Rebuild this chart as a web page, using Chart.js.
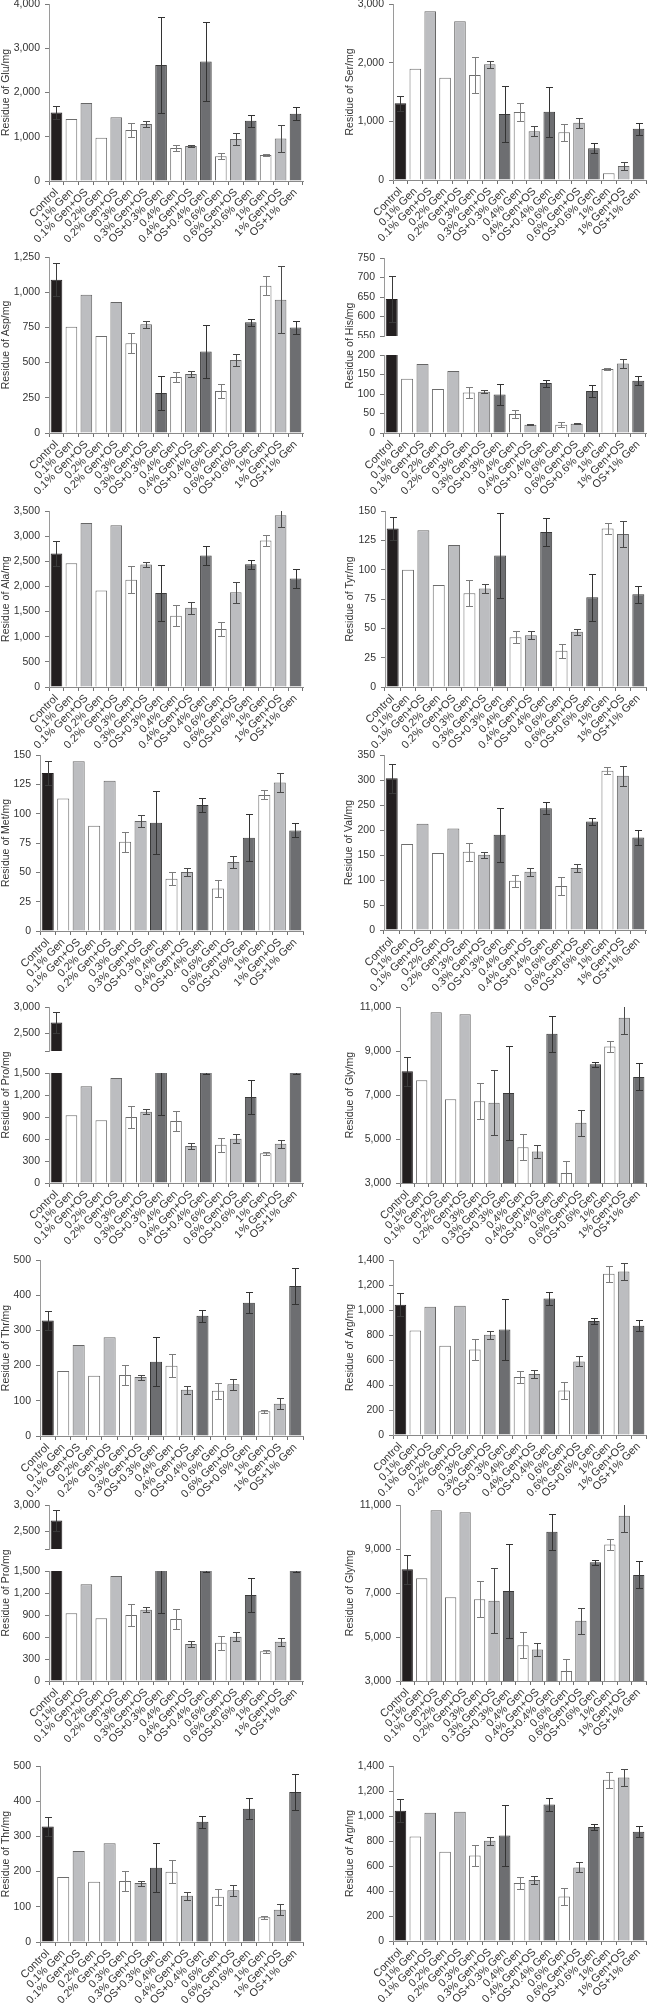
<!DOCTYPE html>
<html>
<head>
<meta charset="utf-8">
<title>Residues of amino acids</title>
<script src="https://cdn.jsdelivr.net/npm/chart.js@4.4.1/dist/chart.umd.min.js"></script>
<style>
  html, body { margin: 0; padding: 0; background: #fff; }
  body { position: relative; width: 647px; height: 2009px; overflow: hidden; }
  canvas { position: absolute; }
</style>
</head>
<body>
<script>
// ---------- data ----------
const categories = ['Control', '0.1% Gen', '0.1% Gen+OS', '0.2% Gen', '0.2% Gen+OS', '0.3% Gen', '0.3% Gen+OS',
  'OS+0.3% Gen', '0.4% Gen', '0.4% Gen+OS', 'OS+0.4% Gen', '0.6% Gen', '0.6% Gen+OS', 'OS+0.6% Gen',
  '1% Gen', '1% Gen+OS', 'OS+1% Gen'];

const gluValues = [1550, 1400, 1760, 980, 1440, 1150, 1290, 2620, 745, 790, 2700, 560, 950, 1360, 590, 960, 1520];
const gluErrors = [150, 0, 0, 0, 0, 160, 60, 1090, 70, 30, 900, 70, 140, 140, 30, 300, 145];
const gluTicks = [0, 1000, 2000, 3000, 4000];

const serValues = [1307, 1898, 2875, 1744, 2705, 1790, 1972, 1125, 1159, 830, 1165, 812, 977, 540, 114, 239, 875];
const serErrors = [130, 0, 0, 0, 0, 300, 55, 470, 160, 85, 425, 140, 88, 85, 0, 65, 100];
const serTicks = [0, 1000, 2000, 3000];

const aspValues = [1089, 755, 982, 689, 930, 637, 772, 284, 398, 419, 578, 298, 518, 786, 1046, 947, 750];
const aspErrors = [115, 0, 0, 0, 0, 70, 27, 118, 35, 20, 190, 50, 43, 23, 67, 237, 45];
const aspTicks = [0, 250, 500, 750, 1000, 1250];

const hisValues = [645, 139, 177, 113, 159, 104, 106, 99, 49, 21, 128, 21, 24, 108, 164, 178, 134];
const hisErrors = [58, 0, 0, 0, 0, 14, 4, 27, 11, 1.5, 9, 6, 1.5, 15, 3, 12, 11];
const hisUpperTicks = [550, 600, 650, 700, 750];
const hisLowerTicks = [0, 50, 100, 150, 200];

const alaValues = [2653, 2460, 3263, 1917, 3216, 2135, 2434, 1870, 1419, 1578, 2613, 1154, 1883, 2440, 2911, 3415, 2160];
const alaErrors = [250, 0, 0, 0, 0, 272, 45, 555, 210, 120, 190, 145, 205, 90, 110, 240, 190];
const alaTicks = [0, 500, 1000, 1500, 2000, 2500, 3000, 3500];

const tyrValues = [135, 100, 133.5, 87, 121, 80, 84, 112, 42.5, 44, 132, 31, 47, 76.5, 135, 130.5, 79];
const tyrErrors = [10, 0, 0, 0, 0, 11, 4, 36, 5, 3.4, 12, 6, 2.5, 20, 5, 11, 7];
const tyrTicks = [0, 25, 50, 75, 100, 125, 150];

const metValues = [134.6, 112.9, 144.6, 89.7, 128, 76, 93.7, 92.3, 44.6, 50.3, 107.4, 36.3, 58.9, 79.4, 116, 126.6, 85.7];
const metErrors = [10.5, 0, 0, 0, 0, 8.8, 5.4, 27, 5.5, 3.4, 6, 7, 5, 20, 3.9, 8, 6];
const metTicks = [0, 25, 50, 75, 100, 125, 150];

const valValues = [303.6, 171.8, 212.4, 153.8, 203.1, 156.5, 150.5, 190.4, 98.5, 116.5, 243.7, 87.9, 123.8, 217, 318.3, 308.3, 185.1];
const valErrors = [29, 0, 0, 0, 0, 17.6, 5.7, 54.5, 12, 8.3, 12.3, 18, 8, 7.7, 7, 20, 15];
const valTicks = [0, 50, 100, 150, 200, 250, 300, 350];

const proValues = [2705, 923, 1318, 855, 1432, 900, 973, 1530, 845, 505, 1560, 523, 605, 1173, 405, 536, 1560];
const proErrors = [200, 0, 0, 0, 0, 148, 32, 598, 138, 45, 78, 95, 66, 230, 18, 57, 78];
const proUpperTicks = [2167, 2500, 3000];
const proLowerTicks = [0, 300, 600, 900, 1200, 1500];

const glyValues = [8080, 7669, 10757, 6802, 10665, 6711, 6650, 7091, 4627, 4430, 9783, 3456, 5738, 8399, 9205, 10513, 7821];
const glyErrors = [670, 0, 0, 0, 0, 814, 1490, 2120, 585, 305, 820, 548, 600, 105, 250, 750, 615];
const glyTicks = [3000, 5000, 7000, 9000, 11000];

const thrValues = [328, 184.4, 258.6, 171.1, 280.4, 173, 167.3, 211, 199.6, 131.2, 341.3, 128.3, 147.3, 378.3, 70.3, 91.3, 425.9];
const thrErrors = [28, 0, 0, 0, 0, 29.5, 7, 69, 32, 11, 17, 22, 16, 30, 4, 16, 51];
const thrTicks = [0, 100, 200, 300, 400, 500];

const argValues = [1043, 837, 1027, 715, 1035, 685, 803, 845, 464, 488, 1093, 357, 589, 912, 1291, 1309, 875];
const argErrors = [90, 0, 0, 0, 0, 85, 32, 245, 48, 32, 50, 65, 40, 27, 65, 70, 45];
const argTicks = [0, 100, 200, 300, 400, 500, 600, 700, 800, 900, 1000, 1100, 1200, 1300, 1400];

// ---------- look ----------
const FONT = '"Liberation Sans", Arial, Helvetica, sans-serif';
const TEXT = '#333';
const STYLE = {
  ctrl:  { fill: '#231f20', border: '#231f20', err: '#3a3a3a' },
  gen:   { fill: '#ffffff', border: '#6d6d6d', err: '#7c7c7c' },
  genos: { fill: '#bcbdc0', border: '#666666', err: '#4a4a4a' },
  osgen: { fill: '#6d6e71', border: '#3a3a3a', err: '#333333' }
};
function groupOf(name) {
  if (name === 'Control') return 'ctrl';
  if (name.startsWith('OS+')) return 'osgen';
  if (name.endsWith('+OS')) return 'genos';
  return 'gen';
}

// error bars, placed with the chart's own y scale
const errorBars = {
  id: 'errorBars',
  afterDatasetsDraw(chart) {
    const ds = chart.data.datasets[0];
    const errs = ds.errors;
    if (!errs) return;
    const { ctx, chartArea: a } = chart;
    const y = chart.scales.y;
    const meta = chart.getDatasetMeta(0);
    ctx.save();
    ctx.beginPath();
    ctx.rect(a.left, a.top, a.right - a.left, a.bottom - a.top);
    ctx.clip();
    ctx.lineWidth = 1;
    meta.data.forEach((bar, i) => {
      const e = errs[i];
      if (!e) return;
      const x = Math.round(bar.x) + 0.5;
      const hi = Math.round(y.getPixelForValue(ds.data[i] + e)) + 0.5;
      const lo = Math.round(y.getPixelForValue(ds.data[i] - e)) + 0.5;
      ctx.strokeStyle = STYLE[groupOf(categories[i])].err;
      ctx.beginPath();
      ctx.moveTo(x, hi); ctx.lineTo(x, lo);
      ctx.moveTo(x - 3.5, hi); ctx.lineTo(x + 3.5, hi);
      ctx.moveTo(x - 3.5, lo); ctx.lineTo(x + 3.5, lo);
      ctx.stroke();
    });
    ctx.restore();
  }
};

// title shared by the two halves of a broken axis
function sideTitle(text, x, y) {
  return {
    id: 'sideTitle',
    afterDraw(chart) {
      const ctx = chart.ctx;
      ctx.save();
      ctx.translate(x, y);
      ctx.rotate(-Math.PI / 2);
      ctx.font = '10.5px ' + FONT;
      ctx.fillStyle = TEXT;
      ctx.textAlign = 'center';
      ctx.textBaseline = 'middle';
      ctx.fillText(text, 0, 0);
      ctx.restore();
    }
  };
}

function addCanvas(left, top, width, height) {
  const c = document.createElement('canvas');
  c.width = width;
  c.height = height;
  Object.assign(c.style, { left: left + 'px', top: top + 'px', width: width + 'px', height: height + 'px' });
  document.body.appendChild(c);
  return c;
}

function barChart(o) {
  const c = addCanvas(o.left, o.top, o.width, o.height);
  const padLeft = Math.max(0, o.titleX - 6.3 - o.left);
  const axisW = o.axisX - o.left - padLeft;
  const xH = o.showX ? (o.top + o.height - o.yBottom) : 0;
  const groups = categories.map(groupOf);
  const plugins = [errorBars];
  if (o.sideTitle) plugins.push(sideTitle(o.sideTitle, o.titleX - o.left, o.sideTitleY - o.top));
  new Chart(c, {
    type: 'bar',
    data: {
      labels: categories,
      datasets: [{
        data: o.values,
        errors: o.errors,
        backgroundColor: groups.map(g => STYLE[g].fill),
        borderColor: groups.map(g => STYLE[g].border),
        borderWidth: 1,
        barPercentage: 0.78,
        categoryPercentage: 1,
        clip: 0
      }]
    },
    options: {
      responsive: false,
      animation: false,
      events: [],
      layout: { padding: {
        left: padLeft,
        right: o.left + o.width - o.xRight,
        top: o.yTop - o.top,
        bottom: o.showX ? 0 : (o.top + o.height - o.yBottom)
      } },
      plugins: { legend: { display: false }, tooltip: { enabled: false } },
      scales: {
        x: {
          display: o.showX,
          grid: { offset: true, drawOnChartArea: false, tickLength: 4, color: '#6f6f6f' },
          border: { color: '#8a8a8a' },
          ticks: { autoSkip: false, minRotation: 45, maxRotation: 45, padding: 1, color: TEXT,
                   font: { family: FONT, size: 11 } },
          afterFit: s => { s.height = xH; s.paddingLeft = 0; s.paddingRight = 0; }
        },
        y: {
          min: o.ticks[0],
          max: o.ticks[o.ticks.length - 1],
          grid: { drawOnChartArea: false, tickLength: 4, color: '#7a7a7a' },
          border: { color: '#9a9a9a' },
          ticks: { padding: 5, color: TEXT, font: { family: FONT, size: 10.5 },
                   callback: v => (o.hideMin && v === o.ticks[0]) ? '' : v.toLocaleString('en-US') },
          afterBuildTicks: s => { s.ticks = o.ticks.map(v => ({ value: v })); },
          afterFit: s => { s.width = axisW; s.paddingTop = 0; s.paddingBottom = 0; },
          title: { display: !!o.title, text: o.title, padding: 0, color: TEXT, font: { family: FONT, size: 10.5 } }
        }
      }
    },
    plugins
  });
}

// ---------- panels ----------
const panels = [
  { name: 'Glu', values: gluValues, errors: gluErrors, ticks: gluTicks, col: 0, axisX: 49, titleX: 6, yTop: 4, yBottom: 181, xRight: 303 },
  { name: 'Ser', values: serValues, errors: serErrors, ticks: serTicks, col: 1, axisX: 393, titleX: 350, yTop: 4, yBottom: 180, xRight: 646 },
  { name: 'Asp', values: aspValues, errors: aspErrors, ticks: aspTicks, col: 0, axisX: 49, titleX: 6, yTop: 257, yBottom: 433, xRight: 303 },
  { name: 'His', values: hisValues, errors: hisErrors, ticks: hisUpperTicks, lower: hisLowerTicks, col: 1, axisX: 384, titleX: 350,
    yTop: 258, upperBottom: 336, lowerTop: 355, yBottom: 433, xRight: 646 },
  { name: 'Ala', values: alaValues, errors: alaErrors, ticks: alaTicks, col: 0, axisX: 49, titleX: 6, yTop: 511, yBottom: 687, xRight: 303 },
  { name: 'Tyr', values: tyrValues, errors: tyrErrors, ticks: tyrTicks, col: 1, axisX: 385, titleX: 350, yTop: 511, yBottom: 687, xRight: 646 },
  { name: 'Met', values: metValues, errors: metErrors, ticks: metTicks, col: 0, axisX: 40, titleX: 5, yTop: 755, yBottom: 931, xRight: 303 },
  { name: 'Val', values: valValues, errors: valErrors, ticks: valTicks, col: 1, axisX: 384, titleX: 349, yTop: 755, yBottom: 930, xRight: 646 },
  { name: 'Pro', values: proValues, errors: proErrors, ticks: proUpperTicks, lower: proLowerTicks, hideMin: true, col: 0, axisX: 49, titleX: 6,
    yTop: 1007, upperBottom: 1051, lowerTop: 1073, yBottom: 1183, xRight: 303 },
  { name: 'Gly', values: glyValues, errors: glyErrors, ticks: glyTicks, col: 1, axisX: 400, titleX: 350, yTop: 1007, yBottom: 1183, xRight: 646 },
  { name: 'Thr', values: thrValues, errors: thrErrors, ticks: thrTicks, col: 0, axisX: 40, titleX: 5, yTop: 1260, yBottom: 1436, xRight: 303 },
  { name: 'Arg', values: argValues, errors: argErrors, ticks: argTicks, col: 1, axisX: 393, titleX: 350, yTop: 1260, yBottom: 1435, xRight: 646 }
];

function drawPanel(p, dy) {
  const left = p.col ? 323 : 0;
  const width = p.col ? 324 : 323;
  const title = 'Residue of ' + p.name + '/mg';
  const top = Math.max(0, p.yTop + dy - 9);
  const bottom = Math.min(2009, p.yBottom + dy + 72);
  const base = { left, width, axisX: p.axisX, titleX: p.titleX, xRight: p.xRight, values: p.values, errors: p.errors };
  if (!p.lower) {
    barChart({ ...base, top, height: bottom - top, yTop: p.yTop + dy, yBottom: p.yBottom + dy,
               ticks: p.ticks, showX: true, title });
    return;
  }
  barChart({ ...base, top, height: p.upperBottom + dy + 2 - top, yTop: p.yTop + dy, yBottom: p.upperBottom + dy,
             ticks: p.ticks, hideMin: p.hideMin, showX: false });
  barChart({ ...base, top, height: bottom - top, yTop: p.lowerTop + dy, yBottom: p.yBottom + dy,
             ticks: p.lower, showX: true, sideTitle: title, sideTitleY: (p.yTop + p.yBottom) / 2 + dy });
}

panels.forEach(p => drawPanel(p, 0));
// the last two rows repeat Pro/Gly and Thr/Arg
const repeatShift = { Pro: 498, Gly: 498, Thr: 506, Arg: 506 };
panels.filter(p => repeatShift[p.name]).forEach(p => drawPanel(p, repeatShift[p.name]));
</script>
</body>
</html>
